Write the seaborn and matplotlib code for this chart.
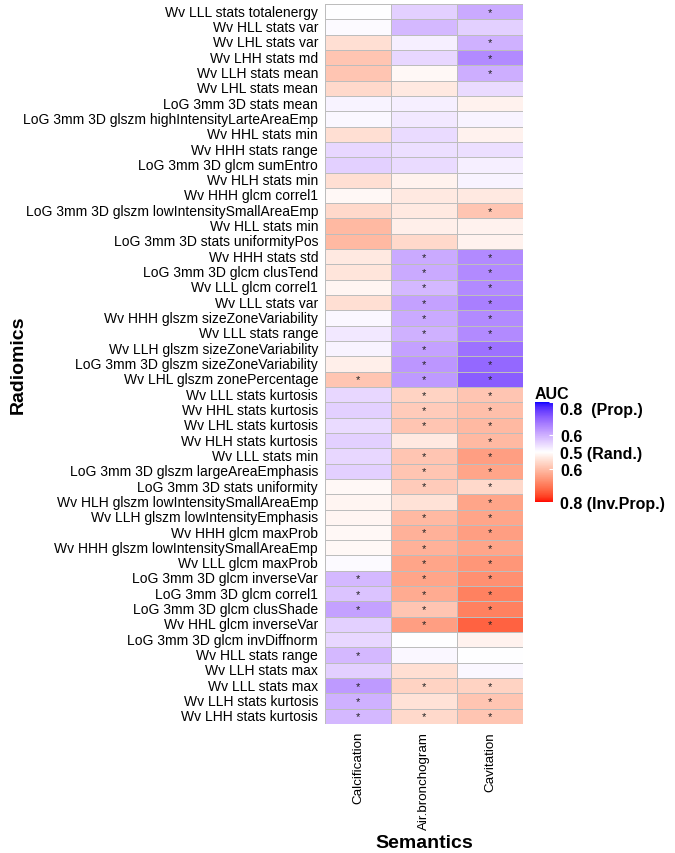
import numpy as np
import pandas as pd
import matplotlib
matplotlib.use("Agg")
import matplotlib.pyplot as plt
import seaborn as sns
from matplotlib.colors import ListedColormap

features = [
    'Wv LLL stats totalenergy', 'Wv HLL stats var', 'Wv LHL stats var', 'Wv LHH stats md',
    'Wv LLH stats mean', 'Wv LHL stats mean', 'LoG 3mm 3D stats mean',
    'LoG 3mm 3D glszm highIntensityLarteAreaEmp', 'Wv HHL stats min', 'Wv HHH stats range',
    'LoG 3mm 3D glcm sumEntro', 'Wv HLH stats min', 'Wv HHH glcm correl1',
    'LoG 3mm 3D glszm lowIntensitySmallAreaEmp', 'Wv HLL stats min',
    'LoG 3mm 3D stats uniformityPos', 'Wv HHH stats std', 'LoG 3mm 3D glcm clusTend',
    'Wv LLL glcm correl1', 'Wv LLL stats var', 'Wv HHH glszm sizeZoneVariability',
    'Wv LLL stats range', 'Wv LLH glszm sizeZoneVariability',
    'LoG 3mm 3D glszm sizeZoneVariability', 'Wv LHL glszm zonePercentage',
    'Wv LLL stats kurtosis', 'Wv HHL stats kurtosis', 'Wv LHL stats kurtosis',
    'Wv HLH stats kurtosis', 'Wv LLL stats min', 'LoG 3mm 3D glszm largeAreaEmphasis',
    'LoG 3mm 3D stats uniformity', 'Wv HLH glszm lowIntensitySmallAreaEmp',
    'Wv LLH glszm lowIntensityEmphasis', 'Wv HHH glcm maxProb',
    'Wv HHH glszm lowIntensitySmallAreaEmp', 'Wv LLL glcm maxProb',
    'LoG 3mm 3D glcm inverseVar', 'LoG 3mm 3D glcm correl1', 'LoG 3mm 3D glcm clusShade',
    'Wv HHL glcm inverseVar', 'LoG 3mm 3D glcm invDiffnorm', 'Wv HLL stats range',
    'Wv LLH stats max', 'Wv LLL stats max', 'Wv LLH stats kurtosis', 'Wv LHH stats kurtosis',
]
semantics = ['Calcification', 'Air.bronchogram', 'Cavitation']

# signed AUC - 0.5 : positive = proportional (blue), negative = inversely prop. (red)
calc = [0.00, 0.005, -0.05, -0.09, -0.09, -0.06, 0.015, 0.01, -0.05, 0.05,
        0.06, -0.05, -0.01, -0.06, -0.11, -0.11, -0.035, -0.04, -0.015, -0.05,
        0.01, 0.03, 0.015, -0.025, -0.09, 0.05, 0.06, 0.045, 0.06, 0.05,
        0.06, -0.01, -0.015, -0.015, -0.01, -0.01, 0.005, 0.09, 0.075, 0.12,
        0.06, 0.05, 0.09, 0.06, 0.13, 0.10, 0.09]
air = [0.06, 0.09, 0.02, 0.05, -0.01, -0.035, 0.02, 0.03, 0.045, 0.04,
       0.045, -0.02, -0.035, -0.035, -0.025, -0.06, 0.11, 0.11, 0.09, 0.12,
       0.11, 0.10, 0.12, 0.135, 0.13, -0.07, -0.08, -0.09, -0.035, -0.09,
       -0.09, -0.08, -0.045, -0.11, -0.12, -0.12, -0.14, -0.14, -0.13, -0.09,
       -0.15, 0.00, 0.01, -0.05, -0.07, -0.045, -0.06]
cav = [0.11, 0.06, 0.10, 0.15, 0.105, 0.045, -0.02, 0.015, -0.02, 0.04,
       0.02, 0.015, -0.035, -0.09, -0.02, -0.02, 0.15, 0.15, 0.15, 0.165,
       0.15, 0.15, 0.185, 0.195, 0.21, -0.09, -0.10, -0.11, -0.11, -0.15,
       -0.14, -0.06, -0.14, -0.14, -0.15, -0.14, -0.16, -0.17, -0.19, -0.19,
       -0.23, -0.02, 0.00, 0.01, -0.07, -0.09, -0.09]

# significance (1-based rows)
calc_sig = [25, 38, 39, 40, 43, 45, 46, 47]
air_sig = [17, 18, 19, 20, 21, 22, 23, 24, 25, 26, 27, 28, 30, 31, 32, 34, 35, 36, 37,
           38, 39, 40, 41, 45, 47]
cav_sig = [1, 3, 4, 5, 14, 17, 18, 19, 20, 21, 22, 23, 24, 25, 26, 27, 28, 29, 30, 31,
           32, 33, 34, 35, 36, 37, 38, 39, 40, 41, 45, 46, 47]

cbar_ticks = [0.3, 0.1, 0.0, -0.1, -0.3]
cbar_labels = ['0.8  (Prop.)', '0.6', '0.5 (Rand.)', '0.6', '0.8 (Inv.Prop.)']

df = pd.DataFrame({'Calcification': calc, 'Air.bronchogram': air, 'Cavitation': cav},
                  index=features)
stars = pd.DataFrame('', index=features, columns=semantics)
for col, sig in zip(semantics, [calc_sig, air_sig, cav_sig]):
    for r in sig:
        stars.iloc[r - 1, semantics.index(col)] = '*'


# red - white - blue ramp interpolated in CIELAB (like ggplot's gradient2)
M = np.array([[0.4124, 0.3576, 0.1805], [0.2126, 0.7152, 0.0722], [0.0193, 0.1192, 0.9505]])
WP = np.array([0.95047, 1.0, 1.08883])


def to_lab(c):
    c = np.array(c, float)
    lin = np.where(c <= 0.04045, c / 12.92, ((c + 0.055) / 1.055) ** 2.4)
    xyz = M @ lin / WP
    f = np.where(xyz > 0.008856, np.cbrt(xyz), 7.787 * xyz + 16 / 116)
    return np.array([116 * f[1] - 16, 500 * (f[0] - f[1]), 200 * (f[1] - f[2])])


def from_lab(lab):
    fy = (lab[0] + 16) / 116
    f = np.array([fy + lab[1] / 500, fy, fy - lab[2] / 200])
    xyz = np.where(f ** 3 > 0.008856, f ** 3, (f - 16 / 116) / 7.787) * WP
    lin = np.linalg.solve(M, xyz)
    lin = np.clip(lin, 0, 1)
    c = np.where(lin <= 0.0031308, 12.92 * lin, 1.055 * lin ** (1 / 2.4) - 0.055)
    return np.clip(c, 0, 1)


red, white, blue = to_lab([1, 0, 0]), to_lab([1, 1, 1]), to_lab([0, 0, 1])
ramp = []
for t in np.linspace(0, 1, 256):
    if t < 0.5:
        s = t / 0.5
        ramp.append(from_lab(red * (1 - s) + white * s))
    else:
        s = (t - 0.5) / 0.5
        ramp.append(from_lab(white * (1 - s) + blue * s))
cmap = ListedColormap(ramp)

plt.rcParams['font.family'] = ['Liberation Sans', 'DejaVu Sans']

fig = plt.figure(figsize=(6.75, 8.54), dpi=100)
W, H = 675, 854
ax = fig.add_axes([325 / W, 1 - 725 / H, 198 / W, 720 / H])
cax = fig.add_axes([535 / W, 1 - 503 / H, 18 / W, 100 / H])

sns.heatmap(df, ax=ax, cmap=cmap, vmin=-0.3, vmax=0.3, annot=stars, fmt='',
            annot_kws={'color': '#222222', 'fontsize': 8},
            linewidths=0.6, linecolor='#bdbdbd', cbar_ax=cax,
            xticklabels=semantics, yticklabels=features)

ax.tick_params(axis='y', length=0, pad=5, labelsize=10)
ax.tick_params(axis='x', length=0, pad=5, labelsize=9.6)
plt.setp(ax.get_yticklabels(), rotation=0)
plt.setp(ax.get_xticklabels(), rotation=90, va='top', ha='center')
ax.set_xlabel('')
ax.set_ylabel('')
fig.text(424 / W, 1 - 844 / H, 'Semantics', fontsize=14, fontweight='bold',
         ha='center', va='center')
fig.text(18 / W, 1 - 365 / H, 'Radiomics', fontsize=14, fontweight='bold',
         ha='center', va='center', rotation=90)

cax.set_yticks(cbar_ticks)
cax.set_yticklabels(cbar_labels, fontsize=11.5, fontweight='bold')
cax.get_yticklabels()[0].set_va('top')
cax.tick_params(axis='y', length=3, color='white', direction='in', pad=5)
for sp in cax.spines.values():
    sp.set_visible(False)
cax.set_title('AUC', fontsize=11.5, fontweight='bold', loc='left', pad=3)

fig.savefig('out.png', dpi=100)
